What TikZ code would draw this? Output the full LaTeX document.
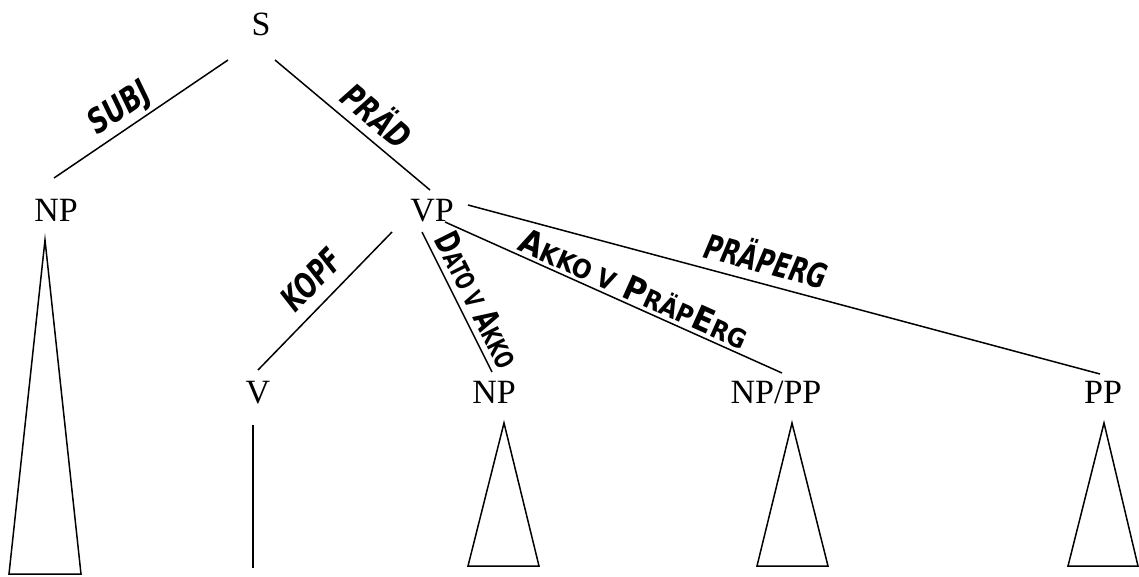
\documentclass[tikz,border=0pt]{standalone}
\usepackage{fontspec}
\setmainfont{Liberation Serif}
\newfontfamily\labfont{DejaVu Sans}
\usetikzlibrary{calc}
\newcommand\lbl[2][0.72]{\scalebox{#1}[1]{\fontsize{34}{36}\selectfont\labfont\bfseries #2}}
\newcommand\smc[1]{{\fontsize{26}{28}\selectfont #1}}
\begin{document}
\begin{tikzpicture}[x=1pt,y=-1pt,
  cat/.style={anchor=base, inner sep=0pt, font=\fontsize{34}{36}\selectfont},
  edge/.style={line width=1.5pt},
  tri/.style={line width=1.5pt, line join=miter},
  elab/.style={sloped, inner sep=0pt},
]
\useasboundingbox (0,0) rectangle (1139,576);
% categories
\node[cat] (S)    at (261,35)  {S};
\node[cat] (NP1)  at (56,221)  {NP};
\node[cat] (VP)   at (432,221) {VP};
\node[cat] (V)    at (258,403) {V};
\node[cat] (NP2)  at (494,403) {NP};
\node[cat] (NPPP) at (776,403) {NP/PP};
\node[cat] (PP)   at (1103,403) {PP};
% edges with labels
\draw[edge] ($(S.base)+(-33,25)$) -- node[elab, pos=0.556, above=3pt] {\lbl[0.75]{\itshape SUBJ}} ($(NP1.base)+(-2,-43)$);
\draw[edge] ($(S.base)+(14,25)$) -- node[elab, pos=0.565, above=9pt] {\lbl[0.75]{\itshape PRÄD}} ($(VP.base)+(-2,-31)$);
\draw[edge] ($(VP.base)+(-40,11)$) -- node[elab, pos=0.469, above=11pt] {\lbl[0.7]{\itshape KOPF}} ($(V.base)+(0,-33)$);
\draw[edge] ($(VP.base)+(-10,11)$) -- node[elab, pos=0.546, above=6pt] {\lbl[0.68]{D\smc{ATO V} A\smc{KKO}}} ($(NP2.base)+(-2,-31)$);
\draw[edge] ($(VP.base)+(13,1)$) -- node[elab, pos=0.541, above=3pt] {\lbl[0.89]{A\smc{KKO V} P\smc{RÄP}E\smc{RG}}} ($(NPPP.base)+(6,-30)$);
\draw[edge] ($(VP.base)+(36,-16)$) -- node[elab, pos=0.4626, above=9pt] {\lbl[0.7]{\itshape PRÄPERG}} ($(PP.base)+(-3,-29)$);
% roofs
\draw[tri] ($(NP1.base)+(-11,19)$) -- ($(NP1.base)+(-47,353)$) -- ($(NP1.base)+(25,353)$) -- cycle;
\draw[edge] ($(V.base)+(-5,22)$) -- ($(V.base)+(-5,165)$);
\draw[tri] ($(NP2.base)+(10,20)$) -- ($(NP2.base)+(-26,163)$) -- ($(NP2.base)+(45,163)$) -- cycle;
\draw[tri] ($(NPPP.base)+(16,20)$) -- ($(NPPP.base)+(-19,163)$) -- ($(NPPP.base)+(52,163)$) -- cycle;
\draw[tri] ($(PP.base)+(1,20)$) -- ($(PP.base)+(-35,163)$) -- ($(PP.base)+(35,163)$) -- cycle;
\end{tikzpicture}
\end{document}
